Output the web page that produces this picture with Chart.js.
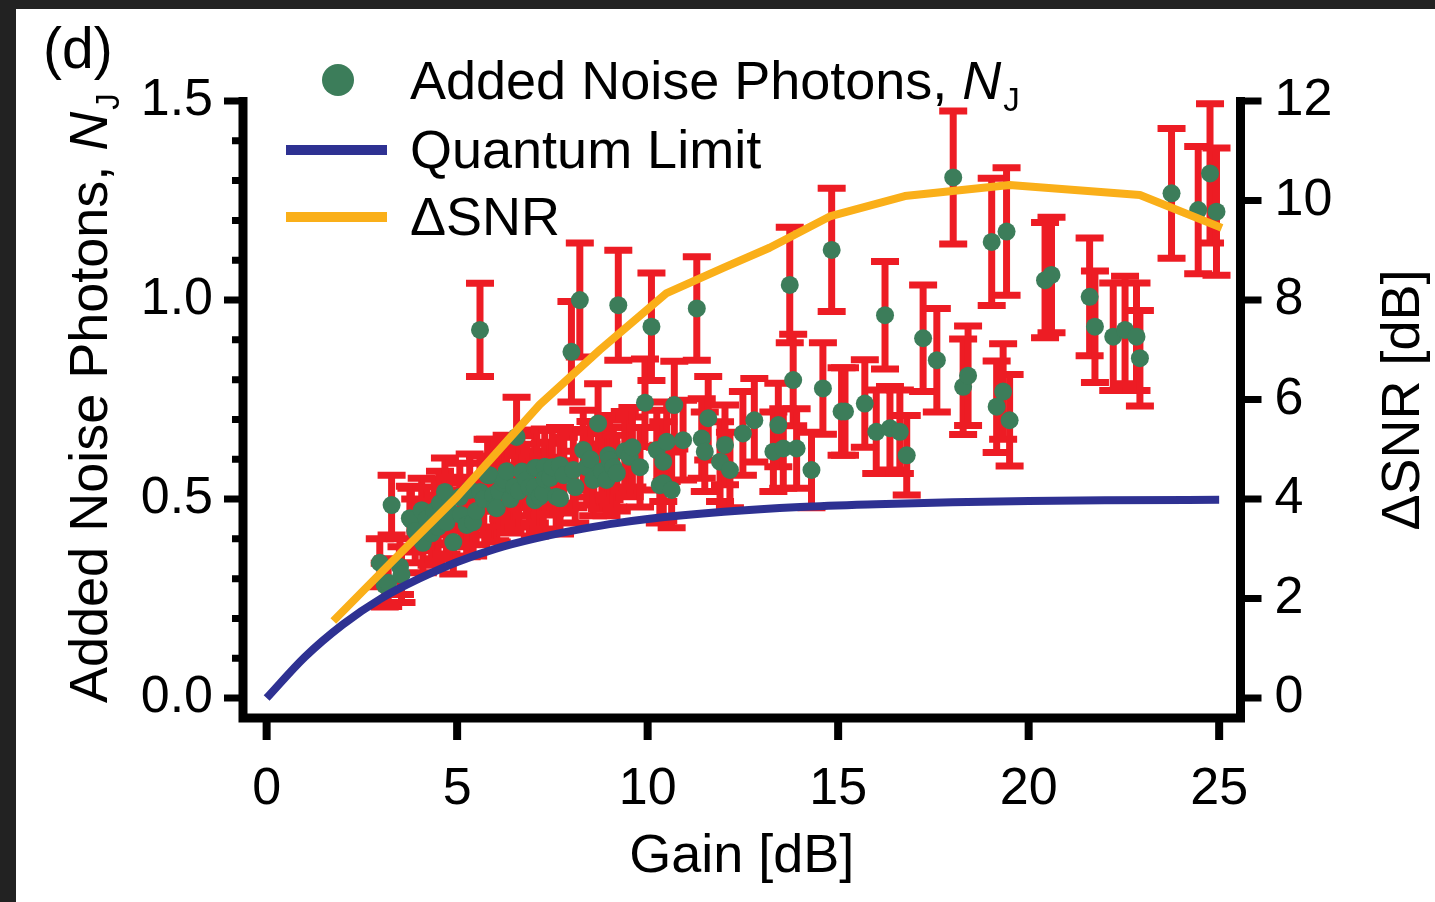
<!DOCTYPE html>
<html><head><meta charset="utf-8">
<script src="https://cdn.jsdelivr.net/npm/chart.js@4"></script>
<style>html,body{margin:0;padding:0;background:#222;overflow:hidden}canvas{display:block}</style>
</head><body><canvas id="c" width="1435" height="902"></canvas>
<script>
// ---- data ----
const gain = [2.97,3.10,3.19,3.28,3.50,3.54,3.76,3.80,3.90,4.07,4.10,4.20,4.33,4.40,4.50,4.55,4.68,4.72,4.80,4.90,5.07,5.10,5.25,5.33,5.42,5.50,5.60,5.60,5.70,5.80,5.86,5.95,6.00,6.04,6.10,6.21,6.25,6.30,6.40,6.50,6.56,6.62,6.70,6.82,6.90,7.04,7.04,7.04,7.09,7.17,7.26,7.30,7.30,7.44,7.50,7.60,7.70,7.70,7.80,8.00,8.05,8.10,8.22,8.31,8.40,8.50,8.57,8.70,8.80,8.92,8.97,9.00,9.10,9.19,9.23,9.40,9.53,9.60,9.80,9.93,10.10,10.24,10.32,10.41,10.41,10.50,10.63,10.70,10.93,11.29,11.42,11.50,11.59,11.90,12.03,12.16,12.50,12.80,13.30,13.43,13.56,13.73,13.82,13.91,14.30,14.60,14.83,15.09,15.18,15.70,16.00,16.23,16.36,16.62,16.80,17.23,17.59,18.02,18.28,18.41,19.03,19.16,19.33,19.42,19.50,20.43,20.60,21.60,21.74,22.22,22.53,22.83,22.92,23.75,24.45,24.76,24.93];
const noise = [0.34,0.284,0.29,0.485,0.33,0.31,0.452,0.447,0.42,0.472,0.39,0.45,0.414,0.47,0.43,0.49,0.518,0.442,0.47,0.392,0.505,0.46,0.435,0.523,0.442,0.47,0.518,0.925,0.50,0.56,0.56,0.51,0.48,0.477,0.52,0.54,0.548,0.57,0.50,0.53,0.656,0.52,0.569,0.548,0.53,0.578,0.497,0.53,0.578,0.506,0.515,0.581,0.55,0.553,0.58,0.506,0.585,0.502,0.56,0.87,0.573,0.53,1.0,0.623,0.58,0.60,0.548,0.69,0.57,0.548,0.61,0.598,0.58,0.565,0.987,0.62,0.606,0.63,0.58,0.742,0.933,0.623,0.535,0.594,0.54,0.644,0.523,0.736,0.648,0.979,0.652,0.619,0.703,0.594,0.636,0.573,0.665,0.698,0.619,0.686,0.627,1.038,0.799,0.627,0.573,0.778,1.126,0.72,0.72,0.74,0.669,0.962,0.678,0.669,0.61,0.904,0.849,1.308,0.782,0.81,1.146,0.732,0.77,1.172,0.698,1.05,1.063,1.008,0.933,0.908,0.925,0.908,0.854,1.268,1.226,1.318,1.222];
const noiseErr = [0.06,0.055,0.06,0.075,0.07,0.07,0.08,0.08,0.08,0.08,0.075,0.08,0.08,0.08,0.08,0.08,0.085,0.08,0.085,0.08,0.085,0.08,0.08,0.09,0.085,0.085,0.09,0.117,0.09,0.09,0.09,0.085,0.085,0.085,0.09,0.09,0.09,0.09,0.085,0.09,0.1,0.09,0.09,0.09,0.09,0.095,0.09,0.09,0.095,0.09,0.09,0.095,0.09,0.09,0.095,0.09,0.095,0.09,0.095,0.126,0.095,0.09,0.143,0.1,0.095,0.095,0.09,0.1,0.095,0.09,0.1,0.1,0.1,0.095,0.138,0.1,0.1,0.1,0.1,0.11,0.135,0.1,0.095,0.1,0.095,0.1,0.095,0.11,0.1,0.13,0.1,0.1,0.105,0.1,0.1,0.095,0.105,0.105,0.1,0.105,0.1,0.145,0.115,0.1,0.095,0.115,0.155,0.11,0.11,0.11,0.105,0.135,0.105,0.105,0.1,0.134,0.13,0.167,0.12,0.125,0.16,0.115,0.12,0.16,0.115,0.145,0.145,0.148,0.14,0.135,0.135,0.135,0.12,0.163,0.16,0.175,0.16];
const qlGain  = [0,1,2,3,4,5,6,7,8,9,10,12,14,16,18,20,22,25];
const qlNoise = [0,0.103,0.185,0.25,0.30,0.342,0.375,0.40,0.42,0.437,0.45,0.468,0.48,0.487,0.492,0.495,0.497,0.498];
const snrGain = [1.75,3.3,5.0,7.17,8.75,10.5,12.0,13.2,14.78,16.75,19.5,22.92,25.07];
const snrDb   = [1.55,2.75,4.05,5.9,7.0,8.14,8.65,9.05,9.68,10.09,10.31,10.11,9.45];
const xTicks  = [0,5,10,15,20,25];
const yTicks  = [0,0.5,1.0,1.5];
const y2Ticks = [0,2,4,6,8,10,12];

const FONT = '"Liberation Sans", Arial, Helvetica, sans-serif';
const RED = '#ED1C24', GREEN = '#3C7D5A', BLUE = '#2E3192', ORANGE = '#FAAF19';
const INK = '#000';

const decor = {
  id: 'decor',
  beforeDraw(chart) {
    const ctx = chart.ctx;
    ctx.save();
    ctx.fillStyle = '#222';
    ctx.fillRect(0, 0, chart.width, chart.height);
    ctx.fillStyle = '#fff';
    ctx.fillRect(16, 9, chart.width - 16, chart.height - 9);
    ctx.restore();
  },
  beforeDatasetsDraw(chart) {
    const ctx = chart.ctx, xs = chart.scales.x, ys = chart.scales.y;
    ctx.save();
    ctx.strokeStyle = RED;
    ctx.lineCap = 'butt';
    for (let i = 0; i < gain.length; i++) {
      const px = xs.getPixelForValue(gain[i]);
      const t = ys.getPixelForValue(noise[i] + noiseErr[i]);
      const b = ys.getPixelForValue(noise[i] - noiseErr[i]);
      ctx.lineWidth = 7;
      ctx.beginPath(); ctx.moveTo(px, t); ctx.lineTo(px, b); ctx.stroke();
      ctx.beginPath();
      ctx.moveTo(px - 14, t); ctx.lineTo(px + 14, t);
      ctx.moveTo(px - 14, b); ctx.lineTo(px + 14, b);
      ctx.stroke();
    }
    ctx.restore();
  },
  afterDraw(chart) {
    const ctx = chart.ctx, xs = chart.scales.x, ys = chart.scales.y, y2 = chart.scales.y2;
    const a = chart.chartArea;
    ctx.save();
    ctx.strokeStyle = INK;
    ctx.lineCap = 'butt';
    // axis lines
    ctx.lineWidth = 9;
    ctx.beginPath();
    ctx.moveTo(a.left, a.top - 4); ctx.lineTo(a.left, a.bottom + 4.5);
    ctx.moveTo(a.left - 4.5, a.bottom); ctx.lineTo(a.right + 4.5, a.bottom);
    ctx.moveTo(a.right, a.top - 4); ctx.lineTo(a.right, a.bottom + 4.5);
    ctx.stroke();
    // x ticks
    ctx.lineWidth = 8;
    ctx.beginPath();
    xTicks.forEach(v => { const p = xs.getPixelForValue(v); ctx.moveTo(p, a.bottom); ctx.lineTo(p, a.bottom + 22); });
    ctx.stroke();
    // left major + minor ticks
    ctx.lineWidth = 7;
    ctx.beginPath();
    yTicks.forEach(v => { const p = ys.getPixelForValue(v); ctx.moveTo(a.left, p); ctx.lineTo(a.left - 19, p); });
    for (let k = 0; k <= 15; k++) {
      if (k % 5 === 0) continue;
      const p = ys.getPixelForValue(k / 10);
      ctx.moveTo(a.left, p); ctx.lineTo(a.left - 11, p);
    }
    // right ticks
    y2Ticks.forEach(v => { const p = y2.getPixelForValue(v); ctx.moveTo(a.right, p); ctx.lineTo(a.right + 21, p); });
    ctx.stroke();

    ctx.fillStyle = INK;
    ctx.textBaseline = 'alphabetic';
    // panel label
    ctx.font = '57px ' + FONT;
    ctx.textAlign = 'left';
    ctx.fillText('(d)', 43, 68);
    // x title
    ctx.font = '54px ' + FONT;
    ctx.textAlign = 'center';
    ctx.fillText('Gain [dB]', (a.left + a.right) / 2, 872);
    // right title
    ctx.save();
    ctx.translate(1419, 400);
    ctx.rotate(-Math.PI / 2);
    ctx.textAlign = 'center';
    ctx.fillText('\u0394SNR [dB]', 0, 0);
    ctx.restore();
    // text with italic N and subscript J
    const drawNJ = (x0, y0, size, main) => {
      ctx.textAlign = 'left';
      ctx.font = size + 'px ' + FONT;
      ctx.fillText(main, x0, y0);
      let x = x0 + ctx.measureText(main).width;
      ctx.font = 'italic ' + size + 'px ' + FONT;
      ctx.fillText('N', x, y0);
      x += ctx.measureText('N').width + 2;
      ctx.font = Math.round(size * 0.62) + 'px ' + FONT;
      ctx.fillText('J', x, y0 + size * 0.22);
    };
    ctx.save();
    ctx.translate(107, 703);
    ctx.rotate(-Math.PI / 2);
    drawNJ(0, 0, 54, 'Added Noise Photons, ');
    ctx.restore();
    // legend
    ctx.fillStyle = GREEN;
    ctx.beginPath(); ctx.arc(338, 80, 16, 0, Math.PI * 2); ctx.fill();
    ctx.lineWidth = 10;
    ctx.strokeStyle = BLUE;
    ctx.beginPath(); ctx.moveTo(286, 150); ctx.lineTo(387, 150); ctx.stroke();
    ctx.strokeStyle = ORANGE;
    ctx.beginPath(); ctx.moveTo(286, 217); ctx.lineTo(387, 217); ctx.stroke();
    ctx.fillStyle = INK;
    drawNJ(410, 99, 54, 'Added Noise Photons, ');
    ctx.font = '54px ' + FONT;
    ctx.fillText('Quantum Limit', 410, 168);
    ctx.fillText('\u0394SNR', 410, 235);
    ctx.restore();
  }
};

new Chart(document.getElementById('c'), {
  data: {
    datasets: [
      { type: 'line', label: '\u0394SNR', data: snrGain.map((g, i) => ({ x: g, y: snrDb[i] })), yAxisID: 'y2',
        borderColor: ORANGE, borderWidth: 8, pointRadius: 0, tension: 0, borderJoinStyle: 'round', order: 1 },
      { type: 'line', label: 'Quantum Limit', data: qlGain.map((g, i) => ({ x: g, y: qlNoise[i] })), yAxisID: 'y',
        borderColor: BLUE, borderWidth: 8, pointRadius: 0, cubicInterpolationMode: 'monotone', order: 2 },
      { type: 'scatter', label: 'Added Noise Photons', data: gain.map((g, i) => ({ x: g, y: noise[i] })), yAxisID: 'y',
        backgroundColor: GREEN, borderWidth: 0, pointRadius: 9, order: 3 }
    ]
  },
  options: {
    responsive: false, animation: false, devicePixelRatio: 1,
    layout: { padding: { top: 101, left: 0, right: 0, bottom: 0 } },
    plugins: { legend: { display: false }, tooltip: { enabled: false }, title: { display: false } },
    scales: {
      x: { type: 'linear', position: 'bottom', min: -0.62, max: 25.56,
        afterFit(s) { s.height = 184; },
        afterBuildTicks(s) { s.ticks = xTicks.map(v => ({ value: v })); },
        grid: { display: false, drawTicks: false }, border: { display: false },
        ticks: { color: INK, font: { size: 52, family: FONT }, padding: 40, maxRotation: 0, autoSkip: false } },
      y: { type: 'linear', position: 'left', min: -0.05, max: 1.5,
        afterFit(s) { s.width = 243; },
        afterBuildTicks(s) { s.ticks = yTicks.map(v => ({ value: v })); },
        grid: { display: false, drawTicks: false }, border: { display: false },
        ticks: { color: INK, font: { size: 52, family: FONT }, padding: 30, callback: v => v.toFixed(1) } },
      y2: { type: 'linear', position: 'right', min: -0.4, max: 12,
        afterFit(s) { s.width = 194.5; },
        afterBuildTicks(s) { s.ticks = y2Ticks.map(v => ({ value: v })); },
        grid: { display: false, drawTicks: false }, border: { display: false },
        ticks: { color: INK, font: { size: 52, family: FONT }, padding: 34 } }
    }
  },
  plugins: [decor]
});
</script></body></html>
